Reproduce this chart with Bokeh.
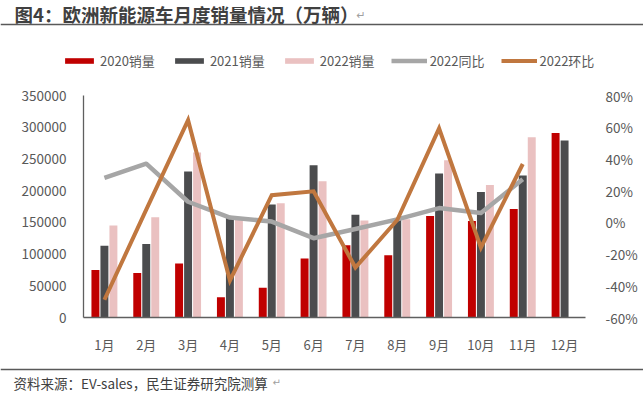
from bokeh.plotting import figure
from bokeh.layouts import column
from bokeh.models import (Range1d, LinearAxis, FixedTicker, NumeralTickFormatter,
                          BasicTickFormatter, Legend, LegendItem, Span)
from bokeh.embed import file_html
from bokeh.resources import INLINE
from bokeh.core.properties import value

# ---- data ----
months = ["1月", "2月", "3月", "4月", "5月", "6月", "7月", "8月", "9月", "10月", "11月", "12月"]
sales_2020 = [75000, 70000, 85000, 32000, 47000, 93000, 114000, 98000, 160000, 152000, 171000, 291000]
sales_2021 = [113000, 116000, 230000, 157000, 178000, 240000, 162000, 155000, 227000, 198000, 224000, 279000]
sales_2022 = [145000, 158000, 260000, 156000, 180000, 215000, 153000, 155000, 248000, 209000, 284000]
yoy_2022 = [0.28, 0.37, 0.13, 0.03, 0.005, -0.10, -0.042, 0.019, 0.09, 0.059, 0.272]
mom_2022 = [-0.488, 0.08, 0.644, -0.367, 0.171, 0.196, -0.285, 0.015, 0.593, -0.16, 0.368]
left_ticks = [0, 50000, 100000, 150000, 200000, 250000, 300000, 350000]
right_ticks = [-0.6, -0.4, -0.2, 0.0, 0.2, 0.4, 0.6, 0.8]
series_names = ["2020销量", "2021销量", "2022销量", "2022同比", "2022环比"]

title_text = "图4：欧洲新能源车月度销量情况（万辆）"
source_text = "资料来源：EV-sales，民生证券研究院测算"

FONT = "Noto Sans CJK SC"
C2020 = "#C00000"
C2021 = "#4B4C4E"
C2022 = "#EAC1C1"
CYOY = "#A6A6A6"
CMOM = "#C0773F"
TXT = "#595959"
RULE = "#595959"

W = 643
TOP_H, MAIN_H, BOT_H = 80, 276, 39
FL, FR, FT, FB = 83, 585, 95, 325   # frame in page px


def blank_fig(h, y0):
    f = figure(width=W, height=h, output_backend="svg", toolbar_location=None,
               x_range=Range1d(0, W), y_range=Range1d(y0 + h, y0),
               x_axis_type=None, y_axis_type=None, frame_align=False,
               min_border_left=0, min_border_right=0, min_border_top=0, min_border_bottom=0)
    f.outline_line_color = None
    f.grid.visible = False
    f.background_fill_color = "white"
    f.border_fill_color = "white"
    return f

# ---- top: title, rule, legend ----
top = blank_fig(TOP_H, 0)
top.text(x=[14], y=[13.5], text=[title_text], text_font=value(FONT), text_font_size="18.5px",
         text_font_style="bold", text_color="#404040", text_baseline="middle", text_align="left")
top.text(x=[356], y=[14.5], text=["↵"], text_font=value("DejaVu Sans"), text_font_size="11px",
         text_color="#a0a0a0", text_baseline="middle", text_align="left")
top.add_layout(Span(location=24, dimension="width", line_color=RULE, line_width=1.3))

d20 = top.vbar(x=[-1000], top=[0], width=1, fill_color=C2020, line_color=None)
d21 = top.vbar(x=[-1000], top=[0], width=1, fill_color=C2021, line_color=None)
d22 = top.vbar(x=[-1000], top=[0], width=1, fill_color=C2022, line_color=None)
dyoy = top.line(x=[-1000, -999], y=[0, 0], line_color=CYOY, line_width=4.5)
dmom = top.line(x=[-1000, -999], y=[0, 0], line_color=CMOM, line_width=4)
legend = Legend(items=[LegendItem(label=n, renderers=[r]) for n, r in
                       zip(series_names, [d20, d21, d22, dyoy, dmom])],
                orientation="horizontal", location=(61, TOP_H - 70),
                glyph_width=36, glyph_height=7, label_standoff=3, spacing=16,
                padding=0, margin=0, border_line_color=None, background_fill_alpha=0,
                label_text_font=FONT, label_text_font_size="13px", label_text_color=TXT,
                label_height=16)
top.add_layout(legend, "center")

# ---- main chart ----
x_idx = list(range(1, 13))
p = figure(width=W, height=MAIN_H, output_backend="svg", toolbar_location=None,
           x_range=Range1d(0.5, 12.5), y_range=Range1d(0, 350000), frame_align=False,
           min_border_left=FL, min_border_right=W - FR,
           min_border_top=FT - TOP_H, min_border_bottom=TOP_H + MAIN_H - FB,
           background_fill_color="white", border_fill_color="white")
p.outline_line_color = None
p.grid.visible = False
p.extra_y_ranges = {"pct": Range1d(-0.6, 0.8)}

off = 0.215
bw = 0.19
p.vbar(x=[i - off for i in x_idx], top=sales_2020, width=bw, fill_color=C2020, line_color=None)
p.vbar(x=x_idx, top=sales_2021, width=bw, fill_color=C2021, line_color=None)
p.vbar(x=[i + off for i in x_idx[:len(sales_2022)]], top=sales_2022, width=bw,
       fill_color=C2022, line_color=None)
p.line(x=x_idx[:len(yoy_2022)], y=yoy_2022, y_range_name="pct",
       line_color=CYOY, line_width=4.5, line_join="round")
p.line(x=x_idx[:len(mom_2022)], y=mom_2022, y_range_name="pct",
       line_color=CMOM, line_width=4, line_join="miter")

xa = p.xaxis[0]
xa.ticker = FixedTicker(ticks=x_idx)
xa.major_label_overrides = {i: m for i, m in zip(x_idx, months)}
xa.major_tick_line_color = None
xa.minor_tick_line_color = None
xa.axis_line_color = "#5f5f5f"
xa.axis_line_width = 1.3
xa.major_label_text_font = FONT
xa.major_label_text_font_size = "13px"
xa.major_label_text_color = TXT
xa.major_label_standoff = 11

ya = p.yaxis[0]
ya.ticker = FixedTicker(ticks=left_ticks)
ya.formatter = BasicTickFormatter(use_scientific=False)
ya.major_tick_line_color = None
ya.minor_tick_line_color = None
ya.axis_line_color = "#5f5f5f"
ya.axis_line_width = 1.3
ya.major_label_text_font = FONT
ya.major_label_text_font_size = "13.5px"
ya.major_label_text_color = TXT
ya.major_label_standoff = 11

ra = LinearAxis(y_range_name="pct", ticker=FixedTicker(ticks=right_ticks),
                formatter=NumeralTickFormatter(format="0%"))
ra.axis_line_color = None
ra.major_tick_line_color = None
ra.minor_tick_line_color = None
ra.major_label_text_font = FONT
ra.major_label_text_font_size = "13.5px"
ra.major_label_text_color = TXT
ra.major_label_standoff = 14
p.add_layout(ra, "right")

# ---- bottom: rule and source ----
y_bot0 = TOP_H + MAIN_H
bot = blank_fig(BOT_H, y_bot0)
bot.add_layout(Span(location=369, dimension="width", line_color=RULE, line_width=1.3))
bot.text(x=[13], y=[382], text=[source_text], text_font=value(FONT), text_font_size="13.5px",
         text_color="#404040", text_baseline="middle", text_align="left")
bot.text(x=[272], y=[382], text=["↵"], text_font=value("DejaVu Sans"), text_font_size="10px",
         text_color="#a0a0a0", text_baseline="middle", text_align="left")

layout = column(top, p, bot, spacing=0)
open("out.html", "w").write(file_html(layout, INLINE))
